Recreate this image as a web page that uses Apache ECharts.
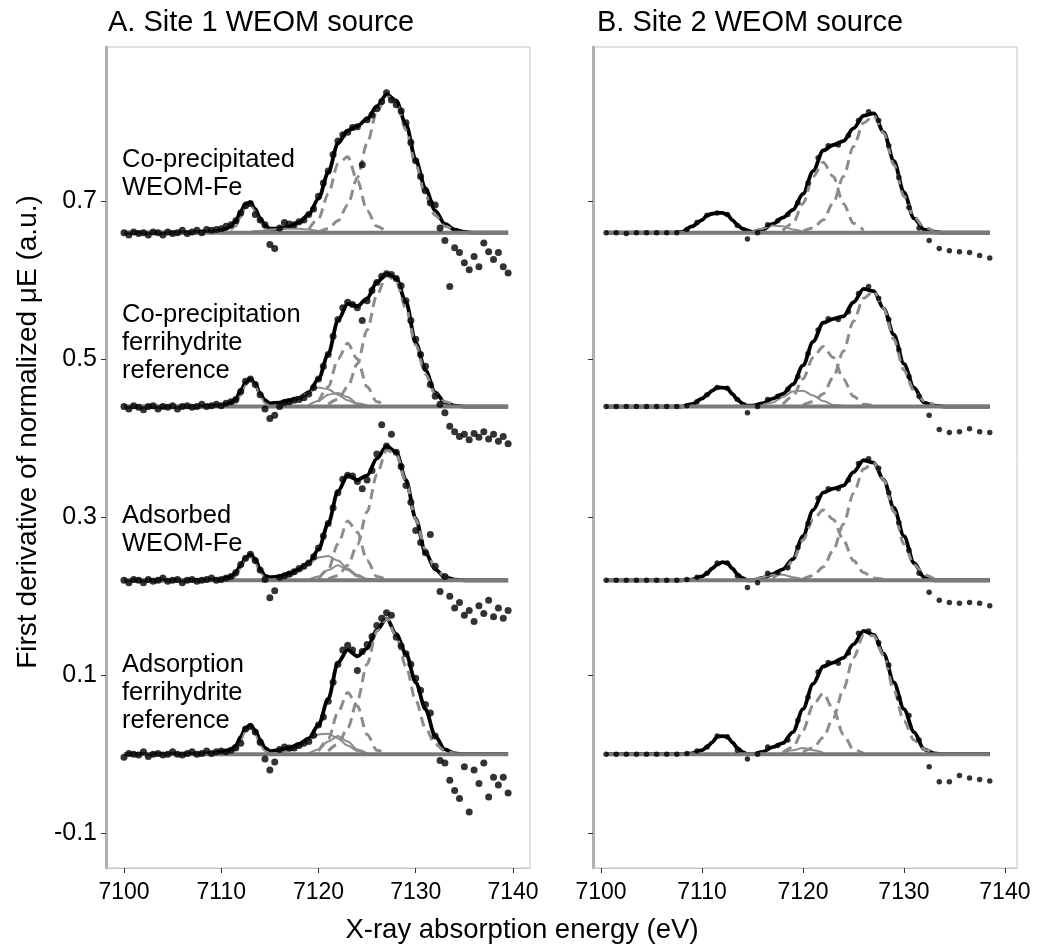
<!DOCTYPE html>
<html>
<head>
<meta charset="utf-8">
<script src="https://cdn.jsdelivr.net/npm/echarts@6/dist/echarts.min.js"></script>
<style>
html, body { margin: 0; padding: 0; background: #fff; }
#chart { width: 1038px; height: 951px; }
</style>
</head>
<body>
<div id="chart"></div>
<script>
// offsets of the four stacked spectra (same in both panels)
const baselines = [0.66, 0.44, 0.22, 0];
const rowLabels = ['Co-precipitated\nWEOM-Fe', 'Co-precipitation\nferrihydrite\nreference', 'Adsorbed\nWEOM-Fe', 'Adsorption\nferrihydrite\nreference'];
const panelTitles = ['A. Site 1 WEOM source', 'B. Site 2 WEOM source'];
const xTicks = [7100, 7110, 7120, 7130, 7140];
const yTicks = [-0.1, 0.1, 0.3, 0.5, 0.7];

// measured energies: site 1 every 0.5 eV, site 2 every 1 eV
const energyA = [];
for (let i = 0; i < 80; i++) energyA.push(7100 + i * 0.5);
const energyB = [];
for (let i = 0; i < 39; i++) energyB.push(7100.5 + i);

// energies at which the fitted curves are sampled
const fitEnergy = [7100, 7107, 7108, 7109, 7110, 7110.5, 7111, 7111.5, 7112, 7112.5, 7113, 7113.5, 7114, 7114.5, 7115,
  7116, 7117, 7118, 7119, 7120, 7121, 7122, 7123, 7124, 7125, 7126, 7127, 7128, 7129, 7130, 7131, 7132, 7133, 7134, 7135, 7136, 7139.5];
const fitEnergyB = [7100.5, 7107, 7108, 7109, 7110, 7110.5, 7111, 7111.5, 7112, 7112.5, 7113, 7113.5, 7114, 7114.5, 7115,
  7116, 7117, 7118, 7119, 7120, 7121, 7122, 7123, 7124, 7125, 7126, 7127, 7128, 7129, 7130, 7131, 7132, 7133, 7134, 7135, 7136, 7138.5];

// derivative data, relative to each row's baseline
const dataA = [
  [0, -.003, .001, -.001, 0, -.003, .001, 0, -.003, .001,
   -.001, 0, .003, -.001, .001, .003, 0, .004, .003, .004,
   .005, .008, .010, .015, .025, .034, .037, .023, .016, .010,
   -.015, -.020, .006, .013, .011, .010, .014, .016, .023, .030,
   .046, .063, .078, .099, .116, .124, .127, .133, .134, .086,
   .143, .149, .157, .166, .177, .168, .162, .154, .139, .114,
   .091, .071, .053, .038, .035, .006, -.010, -.068, -.019, -.025,
   -.038, -.047, -.030, -.043, -.013, -.024, -.034, -.025, -.043, -.051],
  [0, -.003, .001, -.001, -.004, 0, .001, -.003, 0, -.001,
   .001, -.003, 0, .001, -.001, 0, .003, 0, .001, .003,
   .001, .004, .006, .009, .019, .032, .035, .028, .015, -.003,
   -.015, -.011, 0, .005, .006, .008, .009, .011, .016, .024,
   .035, .051, .066, .089, .110, .125, .132, .129, .125, .109,
   .134, .147, .157, .165, .168, .167, .162, .153, .134, .109,
   .085, .066, .051, .028, .013, .003, -.008, -.025, -.032, -.038,
   -.035, -.042, -.034, -.039, -.032, -.041, -.035, -.044, -.038, -.047],
  [0, -.003, .001, 0, -.003, .001, -.001, 0, .003, -.001,
   0, .001, -.003, 0, .001, -.001, 0, .001, .003, 0,
   .001, .003, .005, .010, .020, .028, .033, .025, .013, .001,
   -.022, -.013, .004, .006, .008, .011, .015, .018, .022, .030,
   .041, .056, .072, .092, .111, .128, .133, .132, .125, .116,
   .127, .139, .160, .197, .170, .185, .162, .144, .120, .099,
   .063, .048, .035, .058, .018, -.014, .005, -.020, -.035, -.028,
   -.044, -.038, -.052, -.032, -.042, -.025, -.046, -.035, -.048, -.038],
  [-.004, .001, 0, -.001, .003, -.003, 0, .001, -.001, 0,
   .003, 0, -.001, .001, .003, 0, .001, .004, .001, .003,
   .004, .003, .005, .008, .014, .032, .035, .028, .015, -.006,
   -.020, -.010, .006, .009, .008, .008, .011, .014, .016, .024,
   .037, .047, .067, .091, .114, .132, .138, .132, .106, .130,
   .139, .149, .163, .172, .179, .176, .148, .137, .127, .114,
   .096, .081, .063, .052, .023, -.008, -.011, -.033, -.046, -.056,
   -.016, -.073, -.020, -.037, -.011, -.054, -.029, -.039, -.029, -.049]
];
const dataB = [
  [0, 0, -.001, 0, 0, 0, 0, 0, .004, .013, .022, .025, .023, .009, -.008, 0, .010, .015, .023, .038,
   .063, .095, .110, .111, .123, .142, .153, .142, .110, .070, .032, .006, -.010, -.020, -.023, -.024, -.025, -.029, -.032],
  [0, 0, 0, 0, 0, 0, 0, 0, .001, .006, .015, .024, .023, .009, -.008, 0, .009, .013, .022, .038,
   .067, .097, .111, .110, .120, .143, .152, .137, .110, .072, .038, .013, -.011, -.029, -.033, -.032, -.028, -.032, -.033],
  [0, 0, 0, 0, 0, 0, 0, 0, .001, .004, .009, .022, .022, .006, -.009, -.003, .009, .010, .016, .042,
   .072, .104, .116, .116, .127, .148, .154, .142, .111, .073, .038, .009, -.015, -.025, -.028, -.029, -.028, -.029, -.032],
  [0, 0, 0, 0, 0, 0, 0, 0, .001, .004, .009, .023, .022, .005, -.006, 0, .009, .011, .018, .043,
   .072, .104, .116, .115, .128, .153, .156, .141, .113, .071, .049, .018, -.016, -.035, -.035, -.027, -.030, -.032, -.034]
];

// total fits on the fit grid
const fitA = [
  [0, 0, .001, .001, .003, .005, .008, .015, .027, .037, .038, .030, .018, .009, .005, .005, .008, .013, .023, .043,
   .076, .113, .129, .135, .144, .160, .175, .167, .137, .092, .056, .028, .011, .004, .001, 0, 0],
  [0, 0, 0, .001, .001, .003, .005, .010, .020, .030, .035, .029, .016, .008, .004, .005, .008, .011, .018, .035,
   .066, .109, .130, .127, .137, .157, .168, .162, .132, .081, .046, .018, .005, .001, 0, 0, 0],
  [0, 0, 0, .001, .001, .003, .005, .010, .019, .028, .033, .027, .014, .006, .004, .005, .009, .014, .022, .039,
   .072, .113, .133, .127, .133, .154, .170, .162, .127, .078, .035, .014, .004, .001, 0, 0, 0],
  [0, 0, .001, .001, .003, .004, .006, .011, .022, .033, .037, .030, .018, .008, .004, .005, .008, .013, .020, .037,
   .070, .116, .132, .124, .134, .157, .172, .152, .127, .091, .057, .023, .006, .001, 0, 0, 0]
];
const fitB = [
  [0, 0, .001, .008, .016, .022, .024, .025, .025, .023, .016, .010, .005, .003, .001, .004, .011, .019, .029, .049,
   .078, .104, .111, .116, .132, .148, .151, .127, .091, .051, .018, .004, .001, 0, 0, 0, 0],
  [0, 0, 0, .003, .010, .015, .020, .024, .024, .023, .016, .009, .004, .001, .001, .004, .010, .016, .028, .052,
   .082, .106, .111, .114, .132, .149, .146, .124, .091, .054, .024, .005, .001, 0, 0, 0, 0],
  [0, 0, 0, .001, .005, .009, .015, .020, .023, .022, .015, .008, .003, 0, 0, .003, .008, .014, .027, .056,
   .089, .111, .116, .120, .137, .152, .149, .127, .092, .056, .022, .004, 0, 0, 0, 0, 0],
  [0, 0, 0, .001, .005, .009, .015, .022, .023, .022, .015, .008, .003, 0, 0, .003, .009, .014, .028, .057,
   .089, .111, .116, .122, .139, .156, .151, .127, .091, .057, .028, .006, .001, 0, 0, 0, 0]
];

// fitted components: [first energy on the fit grid, values]
const preA = [
  [7111, [.003, .008, .019, .032, .035, .027, .014, .005, .001]],
  [7111, [.001, .004, .014, .027, .033, .027, .014, .004, .001]],
  [7111, [.001, .005, .015, .027, .030, .022, .010, .003, .001]],
  [7111, [.001, .006, .016, .030, .034, .025, .011, .004, .001]]
];
const lowA = [
  [7113, [.001, .002, .002, .003, .004, .005, .005, .005, .004, .002, .001, .001]],
  [7116, [.001, .004, .011, .018, .024, .022, .015, .008, .003, .001]],
  [7116, [.002, .005, .011, .021, .029, .031, .025, .015, .007, .002, .001]],
  [7116, [.001, .004, .009, .018, .025, .026, .020, .011, .004, .001]]
];
const low2A = [
  [7119, []],
  [7119, [.002, .007, .015, .017, .012, .004, .001]],
  [7119, [.001, .005, .013, .019, .013, .005, .001]],
  [7119, [.001, .006, .016, .023, .016, .006, .001]]
];
const dashLA = [
  [7119, [.004, .018, .049, .087, .096, .066, .028, .008, .001]],
  [7120, [.006, .025, .060, .080, .060, .025, .006, .001]],
  [7120, [.002, .014, .046, .075, .061, .025, .005, .001]],
  [7120, [.004, .019, .053, .078, .061, .025, .005, .001]]
];
const dashRA = [
  [7120, [.001, .005, .015, .035, .070, .113, .153, .173, .165, .130, .086, .047, .022, .008, .003]],
  [7121, [.003, .009, .025, .054, .097, .141, .166, .158, .124, .078, .041, .016, .006, .002]],
  [7121, [.002, .006, .019, .045, .087, .134, .165, .160, .125, .077, .039, .015, .005, .001]],
  [7121, [.004, .013, .033, .068, .114, .156, .172, .149, .111, .068, .033, .013, .004, .001]]
];
const lowB = [
  [7115, [.002, .005, .009, .008, .004, .001]],
  [7116, [.002, .005, .012, .019, .020, .014, .007, .002, .001]],
  [7115, [.001, .004, .007, .007, .004, .001]],
  [7118, [.002, .005, .008, .005, .002]]
];
const dashLB = [
  [7118, [.003, .012, .037, .071, .089, .071, .037, .012, .003]],
  [7118, [.003, .013, .035, .062, .076, .062, .035, .013, .003, .001]],
  [7117, [.003, .010, .025, .051, .077, .089, .077, .051, .025, .010, .003, .001]],
  [7118, [.002, .009, .030, .062, .077, .057, .025, .006, .001]]
];
const dashRB = [
  [7120, [.002, .006, .016, .038, .071, .109, .139, .148, .126, .086, .046, .020, .007, .002]],
  [7120, [.002, .006, .016, .037, .070, .108, .137, .146, .124, .085, .046, .020, .007, .002]],
  [7120, [.002, .006, .017, .038, .071, .110, .141, .149, .127, .087, .046, .020, .007, .002]],
  [7120, [.003, .008, .021, .046, .082, .122, .151, .150, .125, .081, .042, .018, .006, .002]]
];

const FONT = 'Liberation Sans, Arial, sans-serif';
const chart = echarts.init(document.getElementById('chart'), null, { renderer: 'canvas' });

let pairs = (xs, ys, base) => xs.map((x, i) => [x, base + ys[i]]);
let compPairs = (grid, c, base) => {
  let i0 = grid.indexOf(c[0]);
  return c[1].map((v, k) => [grid[i0 + k], base + v]);
};

const series = [];
let addLine = (idx, data, color, width, dashed, z) => {
  if (!data.length) return;
  series.push({
    type: 'line', xAxisIndex: idx, yAxisIndex: idx, data: data,
    smooth: 0.3, smoothMonotone: 'x', showSymbol: false, symbol: 'none',
    lineStyle: { color: color, width: width, type: dashed ? [10, 6] : 'solid' },
    z: z, silent: true
  });
};

const panels = [
  { e: energyA, data: dataA, grid: fitEnergy, fit: fitA, comps: [preA, lowA, low2A], dashed: [dashLA, dashRA], dot: 7 },
  { e: energyB, data: dataB, grid: fitEnergyB, fit: fitB, comps: [lowB], dashed: [dashLB, dashRB], dot: 5.5 }
];
panels.forEach((p, idx) => {
  baselines.forEach((b, r) => {
    addLine(idx, pairs(p.grid, p.fit[r], b), '#000', 3.8, false, 3);
    p.comps.forEach(c => addLine(idx, compPairs(p.grid, c[r], b), '#8c8c8c', 2, false, 4));
    p.dashed.forEach(c => addLine(idx, compPairs(p.grid, c[r], b), '#8c8c8c', 3, true, 4));
    // flat baseline of the fit
    addLine(idx, [[p.grid[0], b], [p.grid[p.grid.length - 1], b]], '#7a7a7a', 4, false, 5);
    series.push({
      type: 'scatter', xAxisIndex: idx, yAxisIndex: idx, data: pairs(p.e, p.data[r], b),
      symbolSize: p.dot, itemStyle: { color: '#000' }, z: 6, silent: true
    });
  });
});

const gridLeft = [106, 593];
const xRange = [[7098.15, 7141.75], [7099.2, 7141.2]];

const option = {
  animation: false,
  backgroundColor: '#fff',
  grid: gridLeft.map(l => ({
    left: l, top: 47, width: 424, height: 821, show: true,
    borderColor: '#c4c4c4', borderWidth: 1, backgroundColor: 'transparent'
  })),
  xAxis: [0, 1].map(i => ({
    type: 'value', gridIndex: i, min: xRange[i][0], max: xRange[i][1],
    axisLine: { show: true, onZero: false, lineStyle: { color: '#c4c4c4', width: 1 } },
    axisTick: { show: true, length: 5, customValues: xTicks, lineStyle: { color: '#333', width: 1 } },
    axisLabel: { customValues: xTicks, color: '#000', fontSize: 23, fontFamily: FONT, margin: 13,
      formatter: v => String(v) },
    splitLine: { show: false }
  })),
  yAxis: [0, 1].map(i => ({
    type: 'value', gridIndex: i, min: -0.144, max: 0.895,
    axisLine: { show: true, onZero: false, lineStyle: { color: '#b0b0b0', width: 3 } },
    axisTick: { show: true, length: 5, customValues: yTicks, lineStyle: { color: '#333', width: 1 } },
    axisLabel: { show: i === 0, customValues: yTicks, color: '#000', fontSize: 25, fontFamily: FONT, margin: 9,
      formatter: v => v.toFixed(1) },
    splitLine: { show: false }
  })),
  graphic: [
    { type: 'text', left: 108, top: 8, style: { text: panelTitles[0], font: '29px ' + FONT, fill: '#000' } },
    { type: 'text', left: 597, top: 8, style: { text: panelTitles[1], font: '29px ' + FONT, fill: '#000' } },
    { type: 'text', x: 522, y: 930, style: { text: 'X-ray absorption energy (eV)', font: '27.5px ' + FONT, fill: '#000', align: 'center', verticalAlign: 'middle' } },
    { type: 'text', x: 28, y: 432, rotation: Math.PI / 2, style: { text: 'First derivative of normalized μE (a.u.)', font: '28px ' + FONT, fill: '#000', align: 'center', verticalAlign: 'middle' } }
  ].concat(rowLabels.map((t, r) => ({
    type: 'text', x: 122, y: [146, 301, 502, 651][r], z: 10,
    style: { text: t, font: '25.5px ' + FONT, lineHeight: 28, fill: '#000', align: 'left', verticalAlign: 'top' }
  }))),
  series: series
};
chart.setOption(option);
</script>
</body>
</html>
